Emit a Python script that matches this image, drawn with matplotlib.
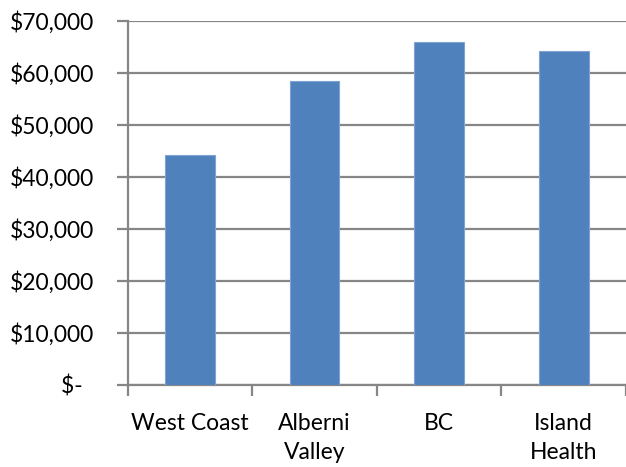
import matplotlib
matplotlib.use('Agg')
import matplotlib.pyplot as plt
from matplotlib.ticker import FuncFormatter, FixedLocator

regions = ['West Coast', 'Alberni\nValley', 'BC', 'Island\nHealth']
median_income = [44200, 58500, 65900, 64300]

plt.rcParams['font.family'] = ['Lato', 'DejaVu Sans']

fig = plt.figure(figsize=(6.26, 4.67), dpi=100)
ax = fig.add_axes([0.204, 0.1756, 0.796, 0.7794])

x = range(len(regions))
ax.bar(x, median_income, width=0.4, color='#4F81BD', edgecolor='#7FA3D3',
       linewidth=0.8, zorder=3)

ax.set_xlim(-0.5, 3.5)
ax.set_ylim(0, 70000)
ax.set_yticks(range(0, 70001, 10000))


def dollars(v, pos):
    if v == 0:
        return '$-  '
    return f'${v:,.0f}'


ax.yaxis.set_major_formatter(FuncFormatter(dollars))
ax.yaxis.grid(True, color='#868686', linewidth=1.6, zorder=0)

ax.set_xticks(list(x))
ax.set_xticklabels(regions, linespacing=1.5)
ax.xaxis.set_minor_locator(FixedLocator([-0.5, 0.5, 1.5, 2.5, 3.5]))
ax.tick_params(axis='x', which='major', length=0, pad=20, labelsize=16.5)
ax.tick_params(axis='x', which='minor', length=8, width=1.6, color='#868686')
ax.tick_params(axis='y', length=8, width=1.6, color='#868686', pad=16,
               labelsize=16.5)

for side in ['top', 'right']:
    ax.spines[side].set_visible(False)
for side in ['left', 'bottom']:
    ax.spines[side].set_color('#868686')
    ax.spines[side].set_linewidth(1.6)

fig.savefig('out.png', dpi=100)
